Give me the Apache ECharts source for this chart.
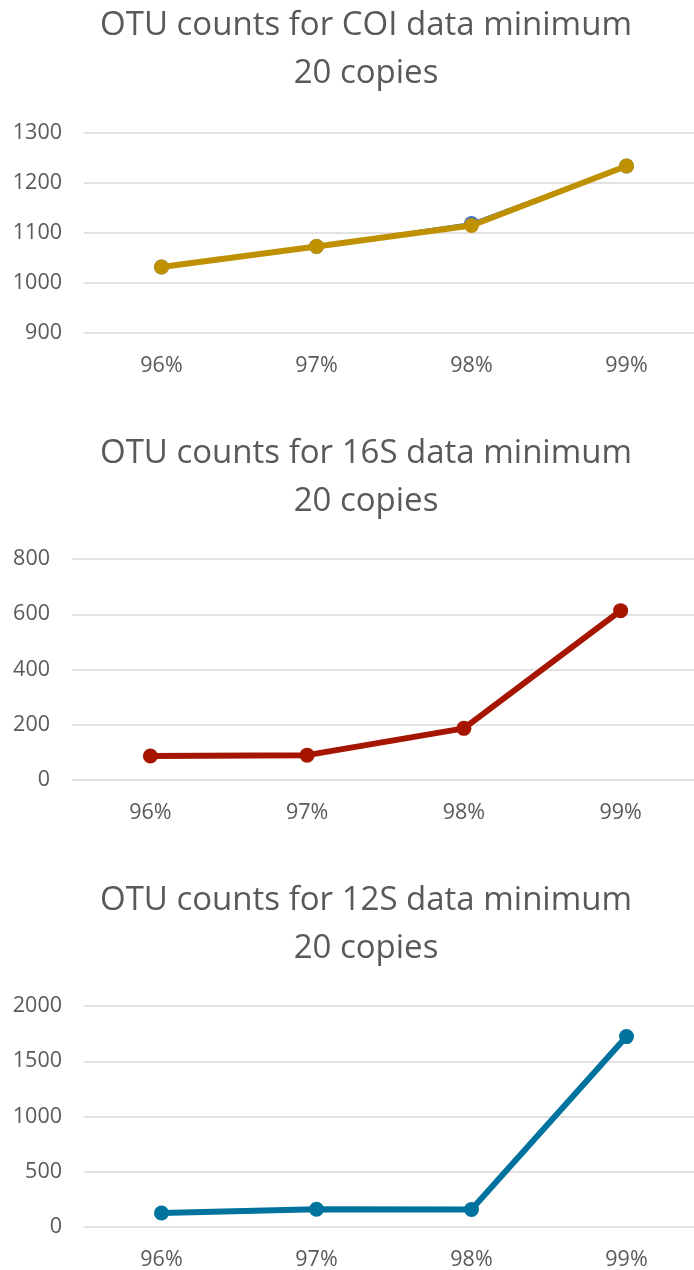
<!DOCTYPE html>
<html>
<head>
<meta charset="utf-8">
<script src="https://cdn.jsdelivr.net/npm/echarts@6/dist/echarts.min.js"></script>
<style>
html,body{margin:0;padding:0;background:#fff;}
#c{width:694px;height:1270px;}
</style>
</head>
<body>
<div id="c"></div>
<script>
var categories = ['96%', '97%', '98%', '99%'];
var coiBlue = [1032, 1073, 1119, 1234];
var coiGold = [1032, 1073, 1115, 1234];
var s16 = [87, 90, 187, 613];
var s12 = [127, 160, 158, 1723];
var titles = [
  'OTU counts for COI data minimum\n20 copies',
  'OTU counts for 16S data minimum\n20 copies',
  'OTU counts for 12S data minimum\n20 copies'
];

var FONT = '"Open Sans", sans-serif';
var TXT = '#595959';
var GRID = '#d9d9d9';

var grids = [
  {left: 84, width: 620, top: 133, height: 200, outerBoundsMode: 'none', containLabel: false},
  {left: 72, width: 627, top: 559, height: 221, outerBoundsMode: 'none', containLabel: false},
  {left: 84, width: 620, top: 1006, height: 221, outerBoundsMode: 'none', containLabel: false}
];
var yRanges = [
  {min: 900, max: 1300, interval: 100},
  {min: 0, max: 800, interval: 200},
  {min: 0, max: 2000, interval: 500}
];
var titleTops = [-3, 425, 872];

function xAxis(i) {
  return {
    type: 'category', gridIndex: i, data: categories, boundaryGap: true,
    axisLine: {show: false}, axisTick: {show: false},
    axisLabel: {color: TXT, fontFamily: FONT, fontSize: 21.5, margin: 22}
  };
}
function yAxis(i) {
  var r = yRanges[i];
  return {
    type: 'value', gridIndex: i, min: r.min, max: r.max, interval: r.interval,
    axisLine: {show: false}, axisTick: {show: false},
    axisLabel: {color: TXT, fontFamily: FONT, fontSize: 21.5, margin: 22,
      formatter: function (v) { return String(v); }},
    splitLine: {show: true, lineStyle: {color: GRID, width: 1.5}}
  };
}
function line(i, data, color, z, w) {
  return {
    type: 'line', xAxisIndex: i, yAxisIndex: i, data: data,
    symbol: 'circle', symbolSize: 15, z: z || 2,
    lineStyle: {color: color, width: w || 6},
    itemStyle: {color: color},
    animation: false
  };
}

var chart = echarts.init(document.getElementById('c'), null, {renderer: 'canvas'});
chart.setOption({
  backgroundColor: '#fff',
  animation: false,
  title: titles.map(function (t, i) {
    return {
      text: t, left: 361, top: titleTops[i], textAlign: 'center',
      textStyle: {color: TXT, fontFamily: FONT, fontSize: 33, fontWeight: 'normal', lineHeight: 48}
    };
  }),
  grid: grids,
  xAxis: [xAxis(0), xAxis(1), xAxis(2)],
  yAxis: [yAxis(0), yAxis(1), yAxis(2)],
  series: [
    line(0, coiBlue, '#4472c4', 2, 3),
    line(0, coiGold, '#bf9000', 3),
    line(1, s16, '#a51500', 2),
    line(2, s12, '#00729e', 2)
  ]
});
</script>
</body>
</html>
